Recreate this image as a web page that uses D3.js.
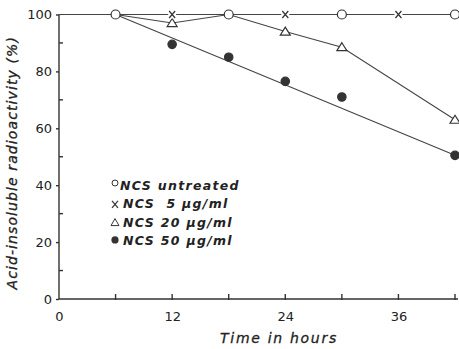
<!DOCTYPE html>
<html>
<head>
<meta charset="utf-8">
<script src="https://cdn.jsdelivr.net/npm/d3@7"></script>
<style>
  body { margin: 0; background: #fff; }
  svg { display: block; }
  text { font-family: 'DejaVu Sans', sans-serif; fill: #222; }
  .axis path, .axis line { stroke: #333; stroke-width: 1.4; }
  .series { fill: none; stroke: #444; stroke-width: 1.1; }
</style>
</head>
<body>
<script>
const width = 459
const height = 349

// hours
const untreatedTimes = [6, 18, 30, 42]
const untreatedValues = [100, 100, 100, 100]
const ncs5Times = [12, 24, 36]
const ncs5Values = [100, 100, 100]
const ncs20Times = [6, 12, 18, 24, 30, 42]
const ncs20Values = [100, 97, 100, 94, 88.5, 63]
const ncs50Times = [12, 18, 24, 30, 42]
const ncs50Values = [89.5, 85, 76.5, 71, 50.5]
// fitted line through the 50 ug/ml points
const fitTimes = [6, 42]
const fitValues = [100, 50.5]

const xTicks = [0, 12, 24, 36]
const xMinor = [6, 18, 30, 42]
const yTicks = [0, 20, 40, 60, 80, 100]
const yMinor = [10, 30, 50, 70, 90]

const legendLabels = ['NCS untreated', 'NCS  5 \u00b5g/ml', 'NCS 20 \u00b5g/ml', 'NCS 50 \u00b5g/ml']

const x = d3.scaleLinear().domain([0, 42]).range([59, 455])
const y = d3.scaleLinear().domain([0, 100]).range([299, 14.5])

const svg = d3.select('body')
    .append('svg')
    .attr('width', width)
    .attr('height', height)

const zip = (ts, vs) => ts.map((t, i) => [t, vs[i]])
const line = d3.line().x(d => x(d[0])).y(d => y(d[1]))

// axes
const xAxis = svg.append('g')
    .attr('class', 'axis')
    .attr('transform', `translate(0,${y(0)})`)
    .call(d3.axisBottom(x).tickValues(xTicks).tickSize(0).tickPadding(10).tickFormat(d3.format('d')))
xAxis.select('.domain').attr('d', `M${x(0)},0H${x(42) + 3}`)
xAxis.selectAll('text').attr('font-size', 13).attr('dy', '0.9em')
xAxis.selectAll('.minor')
    .data(xTicks.filter(d => d > 0).concat(xMinor))
    .enter()
    .append('line')
    .attr('x1', d => x(d)).attr('x2', d => x(d))
    .attr('y1', -5).attr('y2', 1)
    .attr('stroke', '#333').attr('stroke-width', 1.2)

const yAxis = svg.append('g')
    .attr('class', 'axis')
    .attr('transform', `translate(${x(0)},0)`)
    .call(d3.axisLeft(y).tickValues(yTicks).tickSize(3).tickPadding(4))
yAxis.select('.domain').attr('d', `M0,${y(0)}V${y(100)}`)
yAxis.selectAll('text').attr('font-size', 13)
yAxis.selectAll('.minor')
    .data(yMinor)
    .enter()
    .append('line')
    .attr('x1', 0).attr('x2', 4)
    .attr('y1', d => y(d)).attr('y2', d => y(d))
    .attr('stroke', '#333').attr('stroke-width', 1.2)

// axis titles
svg.append('text')
    .attr('transform', `translate(17,${(y(0) + y(100)) / 2 + 6}) rotate(-90)`)
    .attr('text-anchor', 'middle')
    .attr('font-size', 14)
    .attr('font-style', 'italic')
    .attr('letter-spacing', 1.1)
    .attr('stroke', '#222').attr('stroke-width', 0.3)
    .text('Acid-insoluble radioactivity (%)')

svg.append('text')
    .attr('x', 279)
    .attr('y', 343)
    .attr('text-anchor', 'middle')
    .attr('font-size', 14)
    .attr('font-style', 'italic')
    .attr('letter-spacing', 1.7)
    .attr('stroke', '#222').attr('stroke-width', 0.3)
    .text('Time in hours')

// lines
svg.append('path').attr('class', 'series')
    .attr('d', line([[0, 100], [42, 100]]))
svg.append('path').attr('class', 'series')
    .attr('d', line(zip(ncs20Times, ncs20Values)))
svg.append('path').attr('class', 'series')
    .attr('d', line(zip(fitTimes, fitValues)))

// markers
const circle = (g, cx, cy, filled) => g.append('circle')
    .attr('cx', cx).attr('cy', cy).attr('r', filled ? 4.2 : 4.5)
    .attr('fill', filled ? '#333' : '#fff')
    .attr('stroke', '#333').attr('stroke-width', 1.2)
const cross = (g, cx, cy) => g.append('path')
    .attr('d', `M${cx - 3},${cy - 3.5}L${cx + 3},${cy + 3.5}M${cx + 3},${cy - 3.5}L${cx - 3},${cy + 3.5}`)
    .attr('stroke', '#333').attr('stroke-width', 1.2).attr('fill', 'none')
const tri = (g, cx, cy) => g.append('path')
    .attr('d', `M${cx},${cy - 4.5}L${cx + 5},${cy + 3.5}L${cx - 5},${cy + 3.5}Z`)
    .attr('stroke', '#333').attr('stroke-width', 1.2).attr('fill', '#fff')

const marks = svg.append('g')
zip(ncs20Times, ncs20Values).filter(d => d[0] !== 6 && d[0] !== 18).forEach(d => tri(marks, x(d[0]), y(d[1])))
zip(ncs5Times, ncs5Values).forEach(d => {
    marks.append('rect').attr('x', x(d[0]) - 4).attr('y', y(d[1]) - 4).attr('width', 8).attr('height', 8).attr('fill', '#fff')
    cross(marks, x(d[0]), y(d[1]))
})
zip(untreatedTimes, untreatedValues).forEach(d => circle(marks, x(d[0]), y(d[1]), false))
zip(ncs50Times, ncs50Values).forEach(d => circle(marks, x(d[0]), y(d[1]), true))

// legend
const legend = svg.append('g').attr('transform', 'translate(113,185)')
legendLabels.forEach((label, i) => {
    const ly = i * 18.3
    if (i === 0) legend.append('circle').attr('cx', 2).attr('cy', ly - 2).attr('r', 3).attr('fill', 'none').attr('stroke', '#333').attr('stroke-width', 1)
    if (i === 1) cross(legend, 2, ly + 1)
    if (i === 2) legend.append('path').attr('d', `M2,${ly - 3}L6,${ly + 4}L-2,${ly + 4}Z`).attr('fill', 'none').attr('stroke', '#333').attr('stroke-width', 1)
    if (i === 3) legend.append('circle').attr('cx', 2).attr('cy', ly).attr('r', 3.6).attr('fill', '#333')
    legend.append('text')
        .attr('x', i === 0 ? 7 : 10)
        .attr('y', ly + 5)
        .attr('font-size', 12.5)
        .attr('font-style', 'italic')
        .attr('font-weight', 'bold')
        .attr('letter-spacing', 1.3)
        .attr('xml:space', 'preserve')
        .style('white-space', 'pre')
        .text(label)
})
</script>
</body>
</html>
